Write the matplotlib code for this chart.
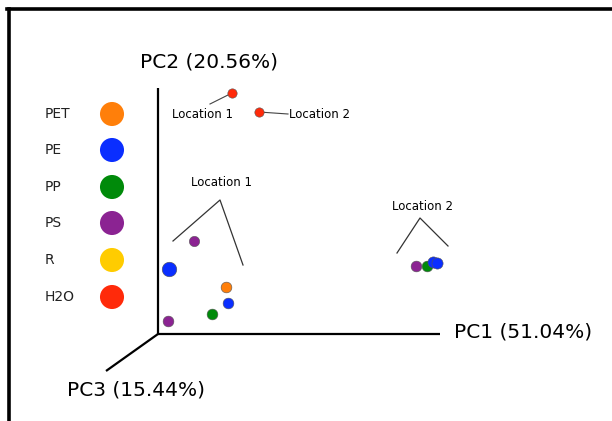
import matplotlib.pyplot as plt
from matplotlib.lines import Line2D

# sample groups and their colours
groups = ['PET', 'PE', 'PP', 'PS', 'R', 'H2O']
group_colors = ['#ff7f0a', '#0a2eff', '#008a0a', '#8b2392', '#ffcc00', '#ff2a0a']

# projected PCA scores (PC1 right, PC2 up, PC3 toward viewer)
pt_group = ['H2O', 'H2O',
            'PS', 'PE', 'PET', 'PE', 'PP', 'PS',
            'PS', 'PP', 'PE', 'PE']
pt_x = [74, 101, 36, 11, 68, 70, 54, 10, 258, 269, 275, 279]
pt_y = [241, 222, 93, 65, 47, 31, 20, 13, 68, 68, 72, 71]
pt_size = [45, 45, 55, 110, 60, 60, 60, 60, 60, 60, 65, 65]

axis_labels = ['PC1 (51.04%)', 'PC2 (20.56%)', 'PC3 (15.44%)']

fig = plt.figure(figsize=(6.12, 4.21), dpi=100)
ax = fig.add_axes([0, 0, 1, 1])
ax.set_xlim(-158, 454)
ax.set_ylim(-87, 334)
ax.axis('off')

# frame on top and left
fig.add_artist(Line2D([0.012, 1.0], [0.978, 0.978], color='black', lw=2.6,
                      transform=fig.transFigure))
fig.add_artist(Line2D([0.015, 0.015], [0.978, 0.0], color='black', lw=2.6,
                      transform=fig.transFigure))

# the three axes
ax.plot([0, 282], [0, 0], color='black', lw=1.6, solid_capstyle='butt')
ax.plot([0, 0], [0, 246], color='black', lw=1.6, solid_capstyle='butt')
ax.plot([0, -52], [0, -37], color='black', lw=1.6, solid_capstyle='butt')
ax.text(296, 2, axis_labels[0], fontsize=14.5, va='center', ha='left')
ax.text(-18, 272, axis_labels[1], fontsize=14.5, va='center', ha='left')
ax.text(-91, -56, axis_labels[2], fontsize=14.5, va='center', ha='left')

# points
cmap = dict(zip(groups, group_colors))
for g, x, y, s in zip(pt_group, pt_x, pt_y, pt_size):
    ax.scatter(x, y, s=s, color=cmap[g], edgecolors='#555555', linewidths=0.4,
               zorder=3)

# labels for the two H2O samples
ax.plot([74, 52], [241, 230], color='#444444', lw=0.8)
ax.text(44, 219, 'Location 1', fontsize=8.5, ha='center', va='center')
ax.plot([101, 130], [222, 220], color='#444444', lw=0.8)
ax.text(131, 220, 'Location 2', fontsize=8.5, ha='left', va='center')

# brackets over the sample clusters
ax.plot([15, 62, 85], [93, 134, 69], color='#333333', lw=0.9)
ax.text(63, 151, 'Location 1', fontsize=8.5, ha='center', va='center')
ax.plot([239, 262, 290], [81, 116, 88], color='#333333', lw=0.9)
ax.text(264, 128, 'Location 2', fontsize=8.5, ha='center', va='center')

# legend
leg_y = [220, 184, 147, 111, 74, 37]
for g, c, y in zip(groups, group_colors, leg_y):
    ax.text(-113, y, g, fontsize=10, ha='left', va='center', color='#222222')
    ax.scatter(-46, y, s=300, color=c, edgecolors='none')

fig.savefig('out.png', dpi=100)
